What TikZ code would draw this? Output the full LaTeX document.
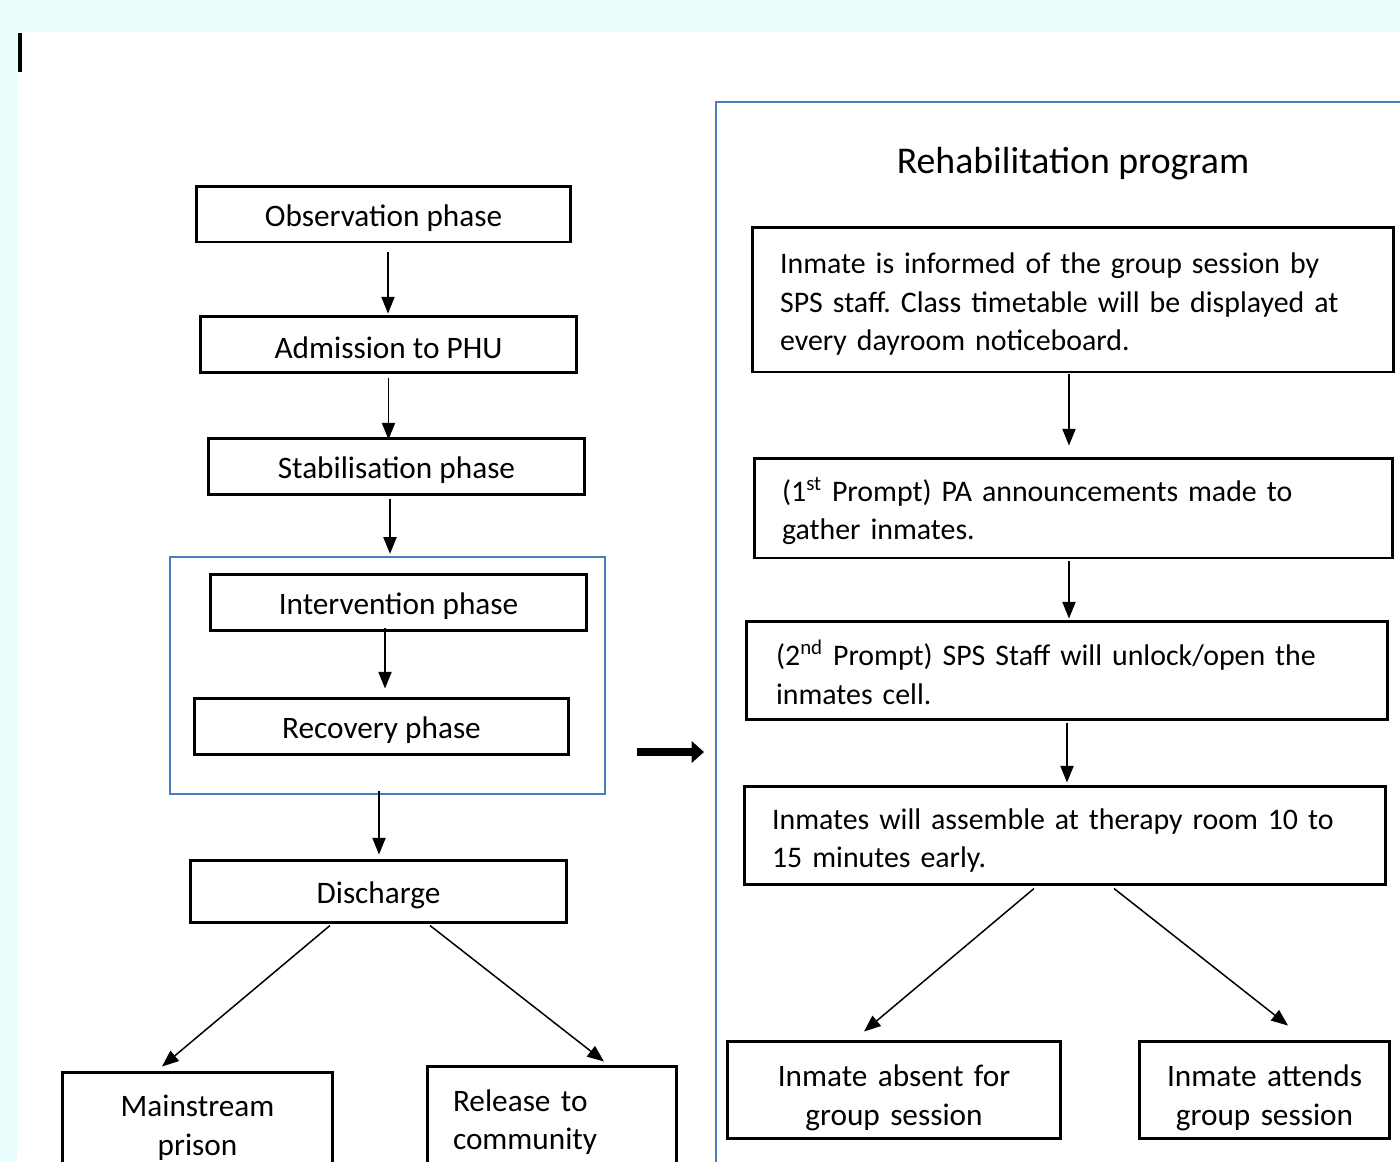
\documentclass[tikz,border=0pt]{standalone}
\usepackage{fontspec}
\setmainfont{Carlito}
\usetikzlibrary{arrows.meta,calc}
\definecolor{frameblue}{RGB}{74,126,187}
\definecolor{pagecyan}{RGB}{232,252,252}

\begin{document}
\frenchspacing
\begin{tikzpicture}[x=0.02cm, y=-0.02cm,
    box/.style={draw, line width=1.7pt, minimum height=1.12cm, font=\fontsize{17.8}{22}\selectfont,
        execute at begin node=\rule{0pt}{0.6cm}},
    textbox/.style={box, align=left, inner ysep=0pt, font=\fontsize{17}{22}\selectfont},
    frame/.style={draw=frameblue, line width=1.4pt},
    arr/.style={-{Triangle[length=9.5pt,width=7.5pt]}, line width=0.85pt}]
    \useasboundingbox (0,0) rectangle (1400,1161);
    \clip (0,0) rectangle (1400,1161);
    \fill[pagecyan] (0,0) rectangle (1400,32);
    \fill[pagecyan] (0,0) rectangle (17,1161);
    \fill (18,33) rectangle (22,72);

    % left column
    \node[box, minimum width=7.5cm] (obs) at (383.5,214) {Observation phase};
    \node[box, minimum width=7.54cm] (adm) at (388.5,344) {Admission to PHU};
    \node[box, minimum width=7.54cm] (stab) at (396.5,466) {Stabilisation phase};
    \node[frame, minimum width=8.7cm, minimum height=4.74cm] (phase) at (387.5,675.5) {};
    \node[box, minimum width=7.54cm] (inter) at (398.5,602) {Intervention phase};
    \node[box, minimum width=7.5cm] (rec) at (381.5,726) {Recovery phase};
    \node[box, minimum width=7.54cm, minimum height=1.24cm] (dis) at (378.5,891) {Discharge};
    \node[box, text width=4.4cm, inner xsep=0.51cm, minimum height=2.06cm, align=center] (main) at (197.5,1123.5) {Mainstream\\prison};
    \node[box, text width=3.96cm, inner xsep=0.52cm, minimum height=2.08cm, align=left] (rel) at (552,1118) {Release to\\community};

    \draw[arr] ($(obs.south)+(4.5,9)$) -- ($(obs.south |- adm.north)+(4.5,-1)$);
    \draw[arr] ($(adm.south)+(0,4)$) -- ($(adm.south |- stab.north)+(0,3)$);
    \draw[arr] ($(stab.south)+(-6.5,3)$) -- ($(stab.south |- phase.north)+(-6.5,-2)$);
    \draw[arr] ($(inter.south)+(-13.5,-4)$) -- ($(inter.south |- rec.north)+(-13.5,-8)$);
    \draw[arr] ($(phase.south)+(-8.5,-4)$) -- ($(phase.south |- dis.north)+(-8.5,-4)$);
    \draw[arr] ($(dis.south)+(-48.5,2)$) -- ($(main.north)+(-35.5,-4)$);
    \draw[arr] ($(dis.south)+(51.5,2)$) -- ($(rel.north)+(52,-3)$);

    % link between the two parts
    \coordinate (push) at (637,752);
    \coordinate (land) at (704,752);
    \draw[line width=5pt, -{Triangle[length=7pt,width=12pt]}] (push) -- (land);

    % right column
    \node[frame, minimum width=14.08cm, minimum height=21.56cm] (rehab) at (1068,641) {};
    \node[font=\fontsize{21.5}{26}\selectfont] (title) at (1073,164) {Rehabilitation program};
    \node[textbox, text width=11.72cm, inner xsep=0.56cm, minimum height=2.9cm,
        execute at begin node=\rule{0pt}{0.48cm}] (inform) at (1073,299.5)
        {Inmate is informed of the group session by\\SPS staff. Class timetable will be displayed at\\every dayroom noticeboard.};
    \node[textbox, text width=11.66cm, inner xsep=0.56cm, minimum height=2.0cm] (gather) at (1073.5,508)
        {(1\textsuperscript{st} Prompt) PA announcements made to\\gather inmates.};
    \node[textbox, text width=11.64cm, inner xsep=0.6cm, minimum height=1.96cm] (unlock) at (1067,670)
        {(2\textsuperscript{nd} Prompt) SPS Staff will unlock/open the\\inmates cell.};
    \node[textbox, text width=11.72cm, inner xsep=0.56cm, minimum height=1.96cm,
        execute at begin node=\rule{0pt}{0.64cm}] (assemble) at (1065,835)
        {Inmates will assemble at therapy room 10 to\\15 minutes early.};
    \node[box, text width=5.6cm, inner xsep=0.54cm, minimum height=1.94cm, align=center,
        execute at begin node=\rule{0pt}{0.76cm}] (absent) at (894,1089.5)
        {Inmate absent for\\group session};
    \node[box, text width=4.2cm, inner xsep=0.41cm, minimum height=1.94cm, align=center,
        execute at begin node=\rule{0pt}{0.76cm}] (attend) at (1264.5,1089.5)
        {Inmate attends\\group session};

    \draw[arr] ($(inform.south)+(-4,1)$) -- ($(inform.south |- gather.north)+(-4,-11)$);
    \draw[arr] ($(gather.south)+(-4.5,2)$) -- ($(gather.south |- unlock.north)+(-4.5,-1)$);
    \draw[arr] ($(unlock.south)+(0,2)$) -- ($(unlock.south |- assemble.north)+(0,-2)$);
    \draw[arr] ($(assemble.south)+(-31,3)$) -- ($(absent.north)+(-30,-8)$);
    \draw[arr] ($(assemble.south)+(49,3)$) -- ($(attend.north)+(23.5,-14)$);
\end{tikzpicture}
\end{document}
